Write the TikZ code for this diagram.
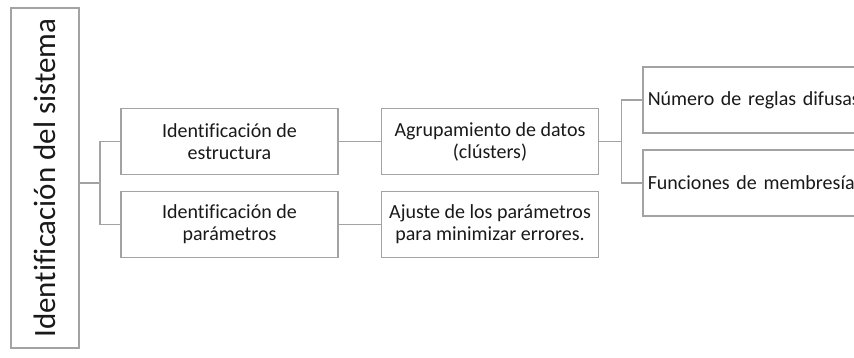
\documentclass[tikz,border=0pt]{standalone}
\usepackage{fontspec}
\setmainfont{Carlito}[Ligatures=NoCommon]
\usetikzlibrary{positioning}
\definecolor{linegray}{HTML}{A3A3A3}
\tikzset{>=latex}
\begin{document}
\begin{tikzpicture}[x=1pt, y=-1pt, align=center]
\tikzset{every node/.style={rectangle, draw=linegray, line width=1.5pt, inner sep=3pt, font=\fontsize{20}{22}\selectfont, text=black!90},
box/.style={minimum width=217pt, minimum height=66pt},
leaf/.style={anchor=west, minimum height=66pt, text width=260pt, align=left, inner xsep=5pt},
link/.style={draw=linegray, line width=1.5pt}}
\useasboundingbox (0,0) rectangle (854,358);
\clip (0,0) rectangle (854,358);
\node[rotate=90, minimum width=340pt, minimum height=68pt, font=\fontsize{31}{34}\selectfont] (root) at (45,178) {Identificación del sistema};
\node[box] (est) at (229.5,141.5) {Identificación de\\estructura};
\node[box] (par) at (229.5,224.5) {Identificación de\\parámetros};
\node[box] (agr) at (490,141.5) {Agrupamiento de datos\\(clústers)};
\node[box] (aju) at (490,224.5) {Ajuste de los parámetros\\para minimizar errores.};
\node[leaf] (num) at (642,100) {Número de reglas difusas};
\node[leaf] (fun) at (642,183) {Funciones de membresía};
\coordinate (rootout) at ([yshift=-5pt]root.south);
% forks
\draw[link] (rootout) -- ++(20,0) coordinate (fork1) |- (est.west);
\draw[link] (fork1) |- (par.west);
\draw[link] (est.east) -- (agr.west);
\draw[link] (par.east) -- (aju.west);
\draw[link] (agr.east) -- ++(22,0) coordinate (fork2) |- (num.west);
\draw[link] (fork2) |- (fun.west);
\end{tikzpicture}
\end{document}
